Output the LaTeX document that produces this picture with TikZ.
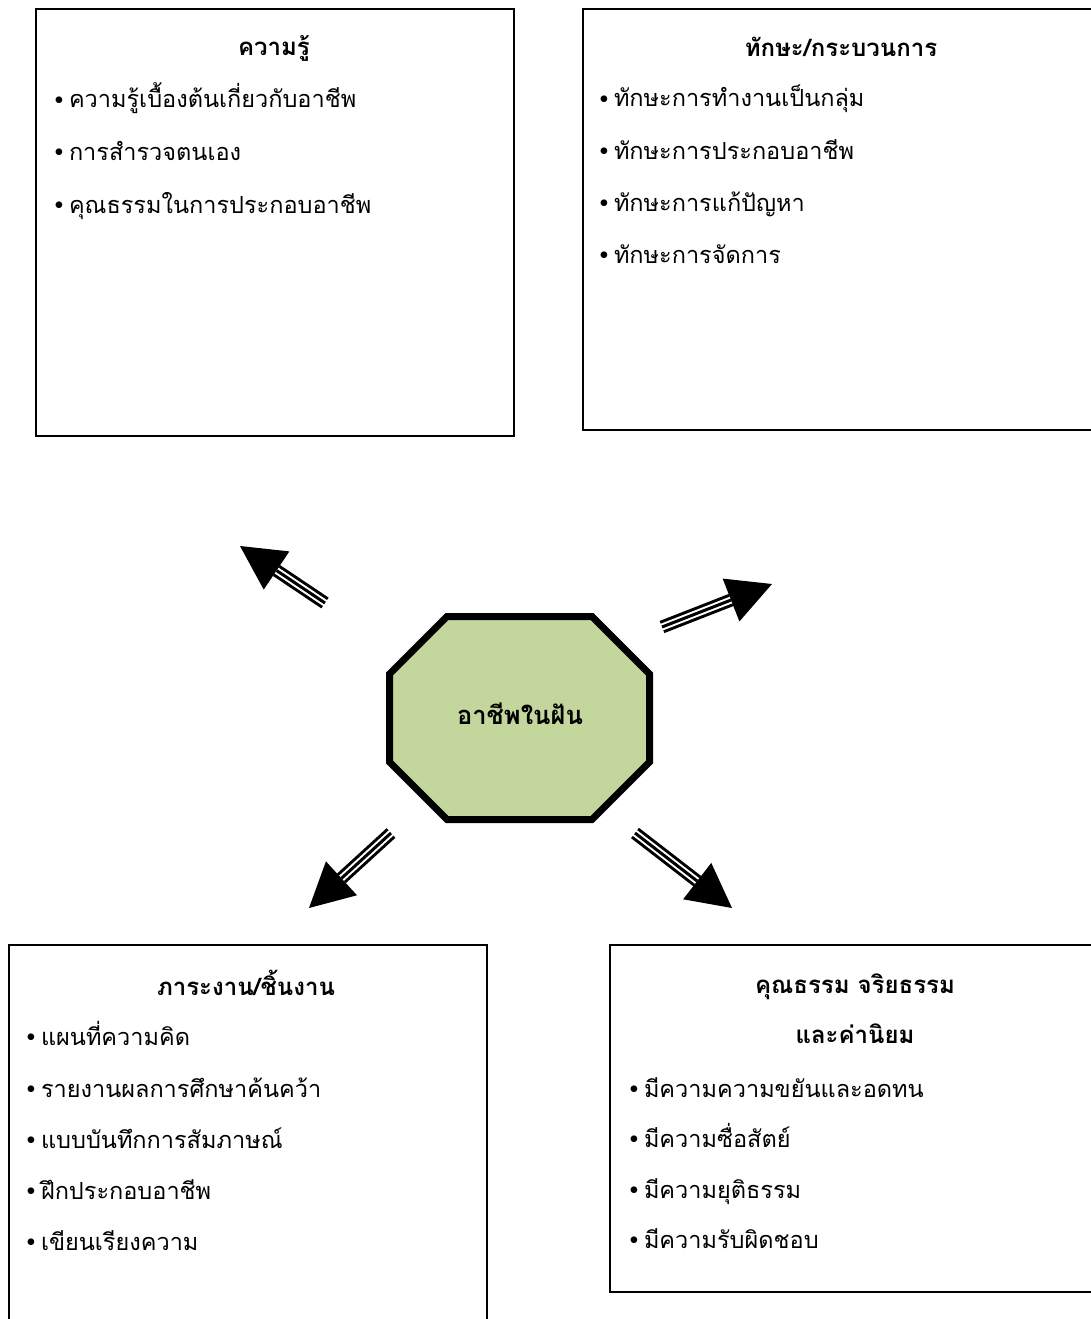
\documentclass[tikz,border=0pt]{standalone}
\usepackage{fontspec}
\newfontfamily\thai[Script=Thai]{Loma}
\newfontfamily\bulf{Liberation Serif}
\usetikzlibrary{calc}
\definecolor{octfill}{RGB}{195,214,155}
\newcommand\itm[1]{{\bulf\fontsize{28}{28}\selectfont\raisebox{-1.5pt}{\char"2022}}\hspace{5pt}#1}
\newcommand\fatarrow[3]{%
  \coordinate (#3) at ($(#2)!44pt!(#1)$);
  \draw[line width=13pt] (#1) -- (#3);
  \draw[white, line width=7pt] ($(#1)!-1pt!(#3)$) -- ($(#3)!-1pt!(#1)$);
  \draw[line width=3pt] (#1) -- (#3);
  \fill ($(#3)!23pt!90:(#2)$) -- (#2) -- ($(#3)!23pt!-90:(#2)$) -- cycle;
}
\begin{document}
\begin{tikzpicture}[x=1pt,y=-1pt,
  box/.style={draw, line width=2pt, anchor=north west, inner sep=0pt},
  itemtext/.style={anchor=base west, inner sep=0pt, font=\thai\fontsize{23.5}{23.5}\selectfont},
  titletext/.style={anchor=base, inner sep=0pt, font=\thai\bfseries\fontsize{24}{24}\selectfont},
  centertext/.style={anchor=base, inner sep=0pt, font=\thai\bfseries\fontsize{25.5}{25.5}\selectfont}]
\useasboundingbox (0,0) rectangle (1091,1319);
\clip (0,0) rectangle (1091,1319);
\fill[white] (0,0) rectangle (1091,1319);
% boxes
\node[box, minimum width=478pt, minimum height=427pt] (b1) at (35,8) {};
\node[box, minimum width=518pt, minimum height=421pt] (b2) at (582,8) {};
\node[box, minimum width=478pt, minimum height=400pt] (b3) at (8,944) {};
\node[box, minimum width=491pt, minimum height=347pt] (b4) at (609,944) {};
% box 1
\node[titletext] (t1) at (274,56) {ความรู้};
\node[itemtext] (i11) at (54,108) {\itm{ความรู้เบื้องต้นเกี่ยวกับอาชีพ}};
\node[itemtext] (i12) at (54,160) {\itm{การสำรวจตนเอง}};
\node[itemtext] (i13) at (54,213) {\itm{คุณธรรมในการประกอบอาชีพ}};
% box 2
\node[titletext] (t2) at (841,57) {ทักษะ/กระบวนการ};
\node[itemtext] (i21) at (599,107) {\itm{ทักษะการทำงานเป็นกลุ่ม}};
\node[itemtext] (i22) at (599,159) {\itm{ทักษะการประกอบอาชีพ}};
\node[itemtext] (i23) at (599,211) {\itm{ทักษะการแก้ปัญหา}};
\node[itemtext] (i24) at (599,263) {\itm{ทักษะการจัดการ}};
% box 3
\node[titletext] (t3) at (246,995) {ภาระงาน/ชิ้นงาน};
\node[itemtext] (i31) at (26,1045) {\itm{แผนที่ความคิด}};
\node[itemtext] (i32) at (26,1097) {\itm{รายงานผลการศึกษาค้นคว้า}};
\node[itemtext] (i33) at (26,1148) {\itm{แบบบันทึกการสัมภาษณ์}};
\node[itemtext] (i34) at (26,1199) {\itm{ฝึกประกอบอาชีพ}};
\node[itemtext] (i35) at (26,1250) {\itm{เขียนเรียงความ}};
% box 4
\node[titletext] (t4a) at (855,993) {คุณธรรม จริยธรรม};
\node[titletext] (t4b) at (855,1043) {และค่านิยม};
\node[itemtext] (i41) at (629,1097) {\itm{มีความความขยันและอดทน}};
\node[itemtext] (i42) at (629,1147) {\itm{มีความซื่อสัตย์}};
\node[itemtext] (i43) at (629,1198) {\itm{มีความยุติธรรม}};
\node[itemtext] (i44) at (629,1248) {\itm{มีความรับผิดชอบ}};
% octagon
\filldraw[fill=octfill, line width=7pt]
  (447,616.5) -- (592,616.5) -- (649.5,674) -- (649.5,762) -- (592,819.5)
  -- (447,819.5) -- (389.5,762) -- (389.5,674) -- cycle;
\node[centertext] (c) at (520,724) {อาชีพในฝัน};
% arrows
\coordinate (s1) at (325,603); \coordinate (h1) at (240,546);
\coordinate (s2) at (662,627); \coordinate (h2) at (772,584);
\coordinate (s3) at (391,833); \coordinate (h3) at (309,908);
\coordinate (s4) at (635,833); \coordinate (h4) at (732,908);
\fatarrow{s1}{h1}{m1}
\fatarrow{s2}{h2}{m2}
\fatarrow{s3}{h3}{m3}
\fatarrow{s4}{h4}{m4}
\end{tikzpicture}
\end{document}
